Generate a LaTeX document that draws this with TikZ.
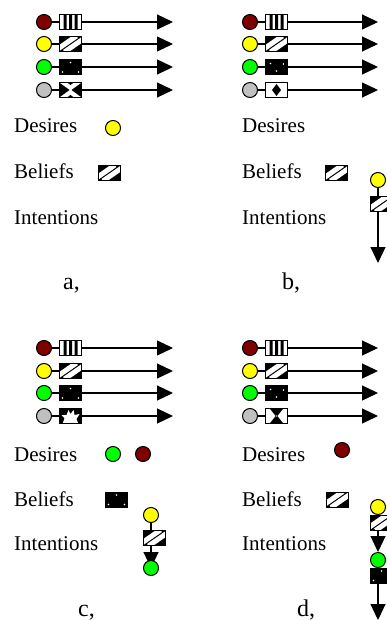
\documentclass[tikz,border=0pt]{standalone}
\usepackage{fontspec}
\setmainfont{Liberation Serif}
\usetikzlibrary{arrows.meta}
\definecolor{dred}{HTML}{7F0000}
\definecolor{dyel}{HTML}{FFFF00}
\definecolor{dgrn}{HTML}{00FF00}
\definecolor{dgry}{HTML}{C0C0C0}
\tikzset{
 ball/.style={circle, draw=black, line width=1pt, minimum size=15pt, inner sep=0pt},
 bx/.style={rectangle, draw=black, line width=1pt, minimum width=22pt, minimum height=15pt, inner sep=0pt, fill=white},
 link/.style={line width=1.2pt},
 arr/.style={line width=1.2pt, -{Triangle[length=16pt,width=15pt]}},
 lbl/.style={font=\fontsize{21}{25}\selectfont, anchor=base west, inner sep=0pt},
 panellbl/.style={font=\fontsize{24}{28}\selectfont, anchor=base west, inner sep=0pt},
 pvert/.style={path picture={\begin{scope}[shift={(path picture bounding box.center)}]
   \fill[black] (-7,-9) rectangle (-4,9) (-1.5,-9) rectangle (1.5,9) (4,-9) rectangle (7,9);\end{scope}}},
 pdiag/.style={path picture={\begin{scope}[shift={(path picture bounding box.center)}]
   \fill[black] (-12,-9) rectangle (12,9);
   \draw[white, line width=5pt] (-17,8) -- (6,-8) (-6,8) -- (17,-8);\end{scope}}},
 pdots/.style={path picture={\begin{scope}[shift={(path picture bounding box.center)}]
   \fill[black] (-12,-9) rectangle (12,9);
   \fill[white] (0,-4.5) circle (0.8) (-8,5) circle (0.8) (8,5) circle (0.8);\end{scope}}},
 pdots2/.style={path picture={\begin{scope}[shift={(path picture bounding box.center)}]
   \fill[black] (-12,-9) rectangle (12,9);
   \fill[white] (-6,-3.5) circle (0.8) (0,4) circle (0.8) (7,-3) circle (0.8);\end{scope}}},
 pbowh/.style={path picture={\begin{scope}[shift={(path picture bounding box.center)}]
   \fill[black] (-12,-8) -- (-1,0) -- (-12,8) -- cycle (12,-8) -- (1,0) -- (12,8) -- cycle;
   \fill[black] (-4,-8) -- (4,-8) -- (0,-5) -- cycle (-4,8) -- (4,8) -- (0,5) -- cycle;\end{scope}}},
 pdiam/.style={path picture={\begin{scope}[shift={(path picture bounding box.center)}]
   \fill[black] (0,-6) -- (4.5,0) -- (0,6) -- (-4.5,0) -- cycle;\end{scope}}},
 pstar/.style={path picture={\begin{scope}[shift={(path picture bounding box.center)}]
   \fill[black] (-12,-9) rectangle (12,9);
   \fill[white] (-8,8) -- (-6,2) -- (-9,-1) -- (-4,-1) -- (-2,-6) -- (0,-2) -- (3,-6) -- (4,-1) -- (9,-2) -- (6,3) -- (8,8) -- cycle;\end{scope}}},
 phourv/.style={path picture={\begin{scope}[shift={(path picture bounding box.center)}]
   \fill[black] (-8,-9) -- (8,-9) -- (0,1) -- cycle (-8,9) -- (8,9) -- (0,-1) -- cycle;\end{scope}}},
}
\newcommand\brow[6]{%
 \node[ball, fill=#4] (#1c) at (#2,#3) {};
 \node[bx, #5] (#1b) at (#2+26.5,#3) {};
 \coordinate (#1t) at (#6,#3);
 \draw[link] (#1c) -- (#1b);
 \draw[arr] (#1b) -- (#1t);
}
\begin{document}
\begin{tikzpicture}[x=1pt,y=-1pt]
\clip (0,0) rectangle (387,620);
\fill[white] (0,0) rectangle (387,620);
% panel a
\brow{aa}{44}{22}{dred}{pvert}{173}
\brow{ab}{44}{44}{dyel}{pdiag}{173}
\brow{ac}{44}{67}{dgrn}{pdots}{173}
\brow{ad}{44}{90}{dgry}{pbowh}{173}
\node[lbl] (aD) at (14,133) {Desires};
\node[lbl] (aB) at (14,179) {Beliefs};
\node[lbl] (aI) at (14,224) {Intentions};
\node[ball, fill=dyel] (aDb) at (113,128) {};
\node[bx, pdiag] (aBb) at (109,173) {};
\node[panellbl] (aL) at (63,289) {a,};
% panel b
\brow{ba}{250}{22}{dred}{pvert}{378}
\brow{bb}{250}{44}{dyel}{pdiag}{378}
\brow{bc}{250}{67}{dgrn}{pdots2}{378}
\brow{bd}{250}{90}{dgry}{pdiam}{378}
\node[lbl] (bD) at (242,133) {Desires};
\node[lbl] (bB) at (242,179) {Beliefs};
\node[lbl] (bI) at (242,224) {Intentions};
\node[bx, pdiag] (bBb) at (336.5,173) {};
\node[ball, fill=dyel] (bic) at (378,180) {};
\node[bx, pdiag] (bib) at (381.5,204) {};
\coordinate (bit) at (378,263);
\draw[link] (bic.south) -- (bic.south |- bib.north);
\draw[arr] (bib.south -| bic) -- (bit);
\node[panellbl] (bL) at (282,289) {b,};
% panel c
\brow{ca}{44}{348}{dred}{pvert}{173}
\brow{cb}{44}{371}{dyel}{pdiag}{173}
\brow{cc}{44}{393}{dgrn}{pdots}{173}
\brow{cd}{44}{416}{dgry}{pstar}{173}
\node[lbl] (cD) at (14,461) {Desires};
\node[lbl] (cB) at (14,506) {Beliefs};
\node[lbl] (cI) at (14,550) {Intentions};
\node[ball, fill=dgrn] (cDg) at (113,454) {};
\node[ball, fill=dred] (cDr) at (143,454) {};
\node[bx, pdots] (cBb) at (116.5,499.5) {};
\node[ball, fill=dyel] (cic) at (151,515) {};
\node[bx, pdiag] (cib) at (154.5,538) {};
\coordinate (cgc) at (151,568);
\draw[link] (cic.south) -- (cic.south |- cib.north);
\draw[arr] (cib.south -| cic) -- (cgc);
\node[ball, fill=dgrn] (cig) at (cgc) {};
\node[panellbl] (cL) at (78,616) {c,};
% panel d
\brow{da}{250}{348}{dred}{pvert}{378}
\brow{db}{250}{371}{dyel}{pdiag}{378}
\brow{dc}{250}{393}{dgrn}{pdots2}{378}
\brow{dd}{250}{416}{dgry}{phourv}{378}
\node[lbl] (dD) at (242,461) {Desires};
\node[lbl] (dB) at (242,506) {Beliefs};
\node[lbl] (dI) at (242,550) {Intentions};
\node[ball, fill=dred] (dDr) at (342,450) {};
\node[bx, pdiag] (dBb) at (337,499.5) {};
\node[ball, fill=dyel] (dic) at (378,507) {};
\node[bx, pdiag] (dib) at (381.5,522.5) {};
\node[ball, fill=dgrn] (dig) at (378,560) {};
\node[bx, pdots] (dkb) at (381.5,575.5) {};
\coordinate (dit) at (378,620);
\draw[arr] (dib.south -| dic) -- (dig.north);
\draw[arr] (dkb.south -| dig) -- (dit);
\node[panellbl] (dL) at (297,616) {d,};
\end{tikzpicture}
\end{document}
